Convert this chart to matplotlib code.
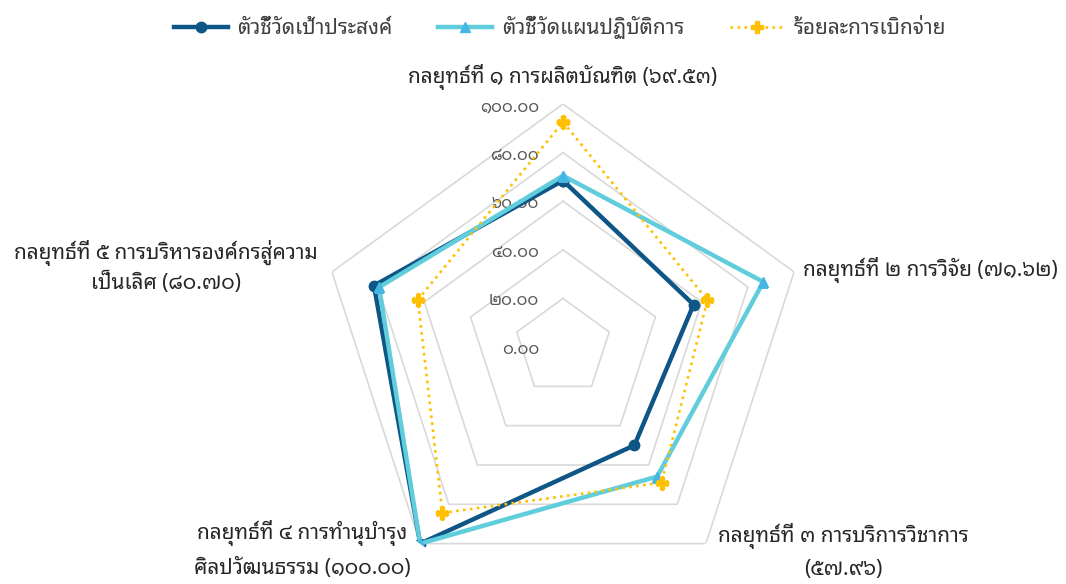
import matplotlib
matplotlib.use("Agg")
import matplotlib.pyplot as plt
import matplotlib.transforms as mtransforms
import numpy as np

plt.rcParams['font.family'] = ['Noto Sans Thai Looped', 'DejaVu Sans']

# ข้อมูล
categories = [
    "กลยุทธ์ที่ ๑ การผลิตบัณฑิต (๖๙.๕๓)",
    "กลยุทธ์ที่ ๒ การวิจัย (๗๑.๖๒)",
    "กลยุทธ์ที่ ๓ การบริการวิชาการ\n(๕๗.๙๖)",
    "กลยุทธ์ที่ ๔ การทำนุบำรุง\nศิลปวัฒนธรรม (๑๐๐.๐๐)",
    "กลยุทธ์ที่ ๕ การบริหารองค์กรสู่ความ\nเป็นเลิศ (๘๐.๗๐)",
]
series_names = ["ตัวชี้วัดเป้าประสงค์", "ตัวชี้วัดแผนปฏิบัติการ", "ร้อยละการเบิกจ่าย"]
goal_kpi = [68.5, 56.5, 50.0, 100.0, 81.8]
plan_kpi = [70.5, 86.7, 65.9, 100.0, 79.6]
disbursement = [92.6, 62.5, 69.0, 84.4, 62.8]
ring_values = [20, 40, 60, 80, 100]
ring_labels = ["๐.๐๐", "๒๐.๐๐", "๔๐.๐๐", "๖๐.๐๐", "๘๐.๐๐", "๑๐๐.๐๐"]

n = len(categories)
angles = np.linspace(0, 2 * np.pi, n, endpoint=False)
ang_c = np.append(angles, angles[0])

def closed(vals):
    return np.append(vals, vals[0])

fig = plt.figure(figsize=(10.66, 5.84), dpi=100)
ax = fig.add_axes([0.3002, -0.0103, 0.4559, 0.8322], projection='polar')
ax.set_theta_zero_location('N')
ax.set_theta_direction(-1)
ax.set_ylim(0, 100)
ax.set_xticks([])
ax.set_yticks([])
ax.grid(False)
ax.spines['polar'].set_visible(False)
ax.patch.set_alpha(0)

# เส้นกริดห้าเหลี่ยม
for r in ring_values:
    ax.plot(ang_c, [r] * (n + 1), color='#d9d9d9', lw=1.2, zorder=1)

# ป้ายแกนรัศมี
lab_tr = mtransforms.offset_copy(ax.transData, fig=fig, x=-24, y=-3, units='dots')
for r, lab in zip([0] + ring_values, ring_labels):
    ax.text(0, r, lab, transform=lab_tr, ha='right', va='center',
            fontsize=12, color='#595959', zorder=2)

# ข้อมูลแต่ละชุด
ax.plot(ang_c, closed(goal_kpi), color='#0e5686', lw=3.2, marker='o', ms=7.5,
        label=series_names[0], zorder=3)
ax.plot(ang_c, closed(plan_kpi), color='#5fcddb', lw=3.2, marker='^', ms=7.5,
        mfc='#45b6e2', mec='#45b6e2', label=series_names[1], zorder=4)
ax.plot(ang_c, closed(disbursement), color='#ffc000', lw=1.9, ls=':', marker='P',
        ms=8, label=series_names[2], zorder=5)

# ป้ายกลยุทธ์ (dx, dy, ha, linespacing)
offsets = [(0, 27, 'center', 1.2), (9, 2, 'left', 1.2), (137, -8, 'center', 1.65),
           (-118, -6, 'center', 1.7), (-166, 5, 'center', 1.3)]
for a, lab, (dx, dy, ha, ls) in zip(angles, categories, offsets):
    tr = mtransforms.offset_copy(ax.transData, fig=fig, x=dx, y=dy, units='dots')
    ax.text(a, 100, lab, transform=tr, ha=ha, va='center', multialignment='center',
            fontsize=15, color='#262626', linespacing=ls, clip_on=False)

fig.legend(loc='center', bbox_to_anchor=(0.525, 0.953), ncol=3, frameon=False,
           fontsize=15, handlelength=2.6, handletextpad=0.45, columnspacing=2.2,
           labelcolor='#404040')

fig.savefig('out.png', dpi=100)
